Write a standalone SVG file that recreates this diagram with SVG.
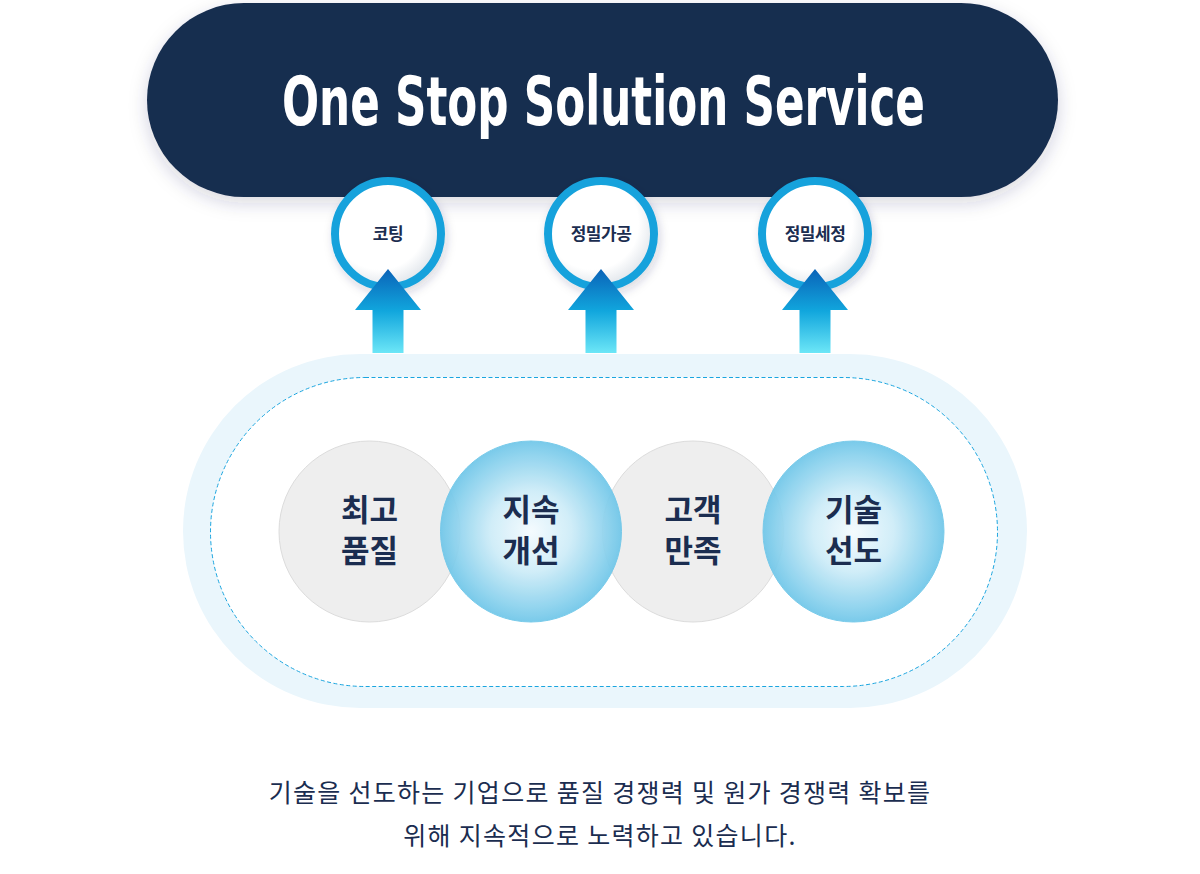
<svg xmlns="http://www.w3.org/2000/svg" width="1200" height="874" viewBox="0 0 1200 874">
<defs>
<filter id="pillShadow" x="-10%" y="-30%" width="120%" height="160%">
<feDropShadow dx="0" dy="6" stdDeviation="9" flood-color="#1b2d50" flood-opacity="0.18"/>
</filter>
<filter id="circShadow" x="-30%" y="-30%" width="160%" height="160%">
<feDropShadow dx="2" dy="4" stdDeviation="5" flood-color="#1b2d50" flood-opacity="0.18"/>
</filter>
<radialGradient id="whiteIn" cx="0.42" cy="0.4" r="0.62">
<stop offset="0.7" stop-color="#ffffff"/>
<stop offset="1" stop-color="#dfe4ea"/>
</radialGradient>
<radialGradient id="blueBall" cx="0.5" cy="0.5" r="0.5">
<stop offset="0" stop-color="#f4fbfe"/>
<stop offset="0.45" stop-color="#cdecf8"/>
<stop offset="1" stop-color="#70c7e9"/>
</radialGradient>
<linearGradient id="arrowGrad" x1="0" y1="0" x2="0" y2="1">
<stop offset="0" stop-color="#0a63b8"/>
<stop offset="0.5" stop-color="#11a6dd"/>
<stop offset="1" stop-color="#6ce6f7"/>
</linearGradient>
<path id="arrowShape" d="M0,-84 L33,-43 L15.5,-43 L15.5,0 L-15.5,0 L-15.5,-43 L-33,-43 Z"/>
</defs>
<style>
.small { font-family: "Noto Sans CJK KR", "Noto Sans", sans-serif; font-weight: 700; font-size: 17px; fill: #1b2d50; text-anchor: middle; letter-spacing: -0.5px; }
.big { font-family: "Noto Sans CJK KR", "Noto Sans", sans-serif; font-weight: 700; font-size: 31px; fill: #1b2d50; text-anchor: middle; }
.desc { font-family: "Noto Sans CJK KR", "Noto Sans", sans-serif; font-weight: 400; font-size: 25px; fill: #1b2d50; text-anchor: middle; letter-spacing: 1.3px; }
.ring { fill: url(#whiteIn); stroke: #16a2dc; stroke-width: 8; }
.gray { fill: #eeeeee; stroke: #dcdcdc; stroke-width: 1; }
.blue { fill: url(#blueBall); stroke: #6ec6e8; stroke-width: 1; opacity: 0.93; }
</style>
<rect width="1200" height="874" fill="#ffffff"/>

<g id="top-pill">
<rect x="147" y="3" width="911" height="194" rx="97" ry="97" fill="#172d4f" filter="url(#pillShadow)"/>
<text x="603.5" y="125" font-family="'Liberation Sans Narrow','DejaVu Sans Condensed','Liberation Sans',sans-serif" font-weight="700" font-size="68" fill="#ffffff" text-anchor="middle" textLength="643" lengthAdjust="spacingAndGlyphs">One Stop Solution Service</text>
</g>

<g id="base-pill">
<rect x="183" y="354" width="844" height="354" rx="177" ry="177" fill="#eaf6fc"/>
<rect x="210.5" y="377.5" width="787" height="309" rx="154.5" ry="154.5" fill="#ffffff" stroke="#1aa5df" stroke-width="1" stroke-dasharray="4 2.5"/>
</g>

<g id="node-coating">
<circle cx="388" cy="234" r="53" class="ring" filter="url(#circShadow)"/>
<text x="388" y="240" class="small">코팅</text>
</g>
<g id="node-precision-machining">
<circle cx="601" cy="234" r="53" class="ring" filter="url(#circShadow)"/>
<text x="601" y="240" class="small">정밀가공</text>
</g>
<g id="node-precision-cleaning">
<circle cx="815" cy="234" r="53" class="ring" filter="url(#circShadow)"/>
<text x="815" y="240" class="small">정밀세정</text>
</g>

<g id="connectors">
<use href="#arrowShape" x="388" y="353" fill="url(#arrowGrad)"/>
<use href="#arrowShape" x="601" y="353" fill="url(#arrowGrad)"/>
<use href="#arrowShape" x="815" y="353" fill="url(#arrowGrad)"/>
</g>

<g id="node-best-quality">
<circle cx="369.5" cy="531.5" r="90.5" class="gray"/>
<text x="369.5" y="521" class="big">최고</text>
<text x="369.5" y="562" class="big">품질</text>
</g>
<g id="node-customer-satisfaction">
<circle cx="693" cy="531.5" r="90.5" class="gray"/>
<text x="693" y="521" class="big">고객</text>
<text x="693" y="562" class="big">만족</text>
</g>
<g id="node-continuous-improvement">
<circle cx="531" cy="531.5" r="90.5" class="blue"/>
<text x="531" y="521" class="big">지속</text>
<text x="531" y="562" class="big">개선</text>
</g>
<g id="node-tech-leadership">
<circle cx="853.5" cy="531.5" r="90.5" class="blue"/>
<text x="853.5" y="521" class="big">기술</text>
<text x="853.5" y="562" class="big">선도</text>
</g>

<g id="description">
<text x="600" y="802" class="desc">기술을 선도하는 기업으로 품질 경쟁력 및 원가 경쟁력 확보를</text>
<text x="600" y="845" class="desc">위해 지속적으로 노력하고 있습니다.</text>
</g>
</svg>
